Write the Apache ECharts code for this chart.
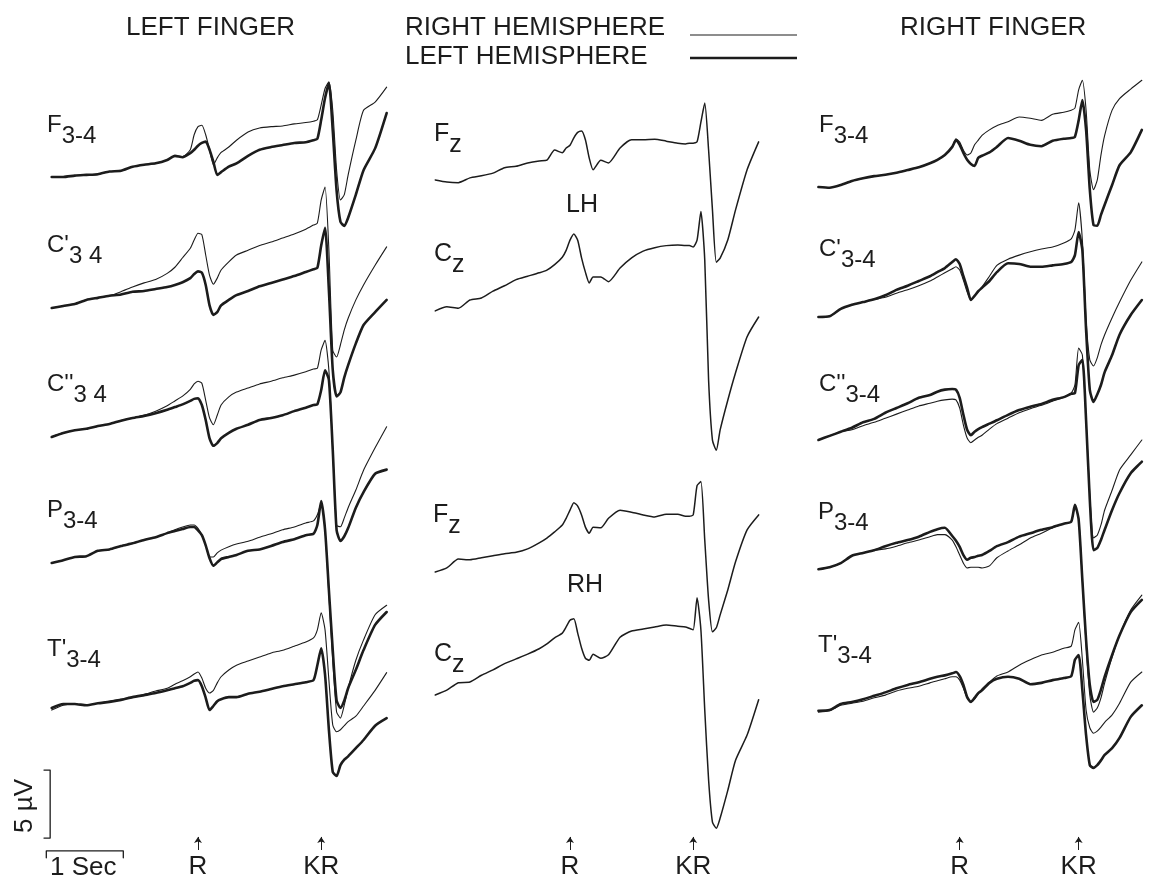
<!DOCTYPE html>
<html>
<head>
<meta charset="utf-8">
<script src="https://cdn.jsdelivr.net/npm/echarts@6/dist/echarts.min.js"></script>
<style>html,body{margin:0;background:#fff}#chart{width:1153px;height:883px}</style>
</head>
<body>
<div id="chart"></div>
<script>
// time of each sample, seconds relative to the response signal R (KR follows at 1.6 s)
const timeSec = [-1.9, -1.75, -1.6, -1.45, -1.3, -1.15, -1.0, -0.85, -0.7, -0.55, -0.4, -0.3, -0.2, -0.1, -0.05, 0, 0.05, 0.1, 0.15, 0.2, 0.25, 0.3, 0.4, 0.5, 0.65, 0.8, 0.95, 1.1, 1.25, 1.4, 1.5, 1.55, 1.6, 1.65, 1.7, 1.75, 1.8, 1.85, 1.9, 1.95, 2.05, 2.15, 2.3, 2.45];
const eventNames = ["R", "KR"];
const eventTimes = [0, 1.6];

// µV relative to the start of each trace; thin = right hemisphere, thick = left hemisphere
const leftF_thin = [0, 0, 0.1, 0.15, 0.2, 0.4, 0.45, 0.75, 0.9, 1.0, 1.25, 1.55, 1.5, 2.0, 3.1, 3.7, 3.8, 3.1, 2.0, 0.9, 1.4, 1.8, 2.2, 2.7, 3.3, 3.6, 3.7, 3.75, 3.9, 4.0, 4.1, 4.2, 5.3, 6.5, 7.0, 4.9, 0.5, -1.7, -1.3, 0.15, 2.7, 4.9, 5.5, 6.6];
const leftF_thick = [0, 0, 0.1, 0.15, 0.2, 0.4, 0.45, 0.75, 0.9, 1.0, 1.25, 1.55, 1.45, 1.75, 2.0, 2.3, 2.5, 2.6, 2.0, 1.1, 0.15, 0.35, 0.75, 1.0, 1.55, 2.0, 2.2, 2.35, 2.5, 2.55, 2.7, 2.8, 4.2, 5.8, 6.9, 3.4, -1.0, -3.3, -3.6, -3.0, -1.3, 0.5, 2.1, 4.7];
const leftC1_thin = [0, 0.15, 0.3, 0.6, 0.75, 0.9, 1.2, 1.55, 1.85, 2.1, 2.55, 3.0, 3.7, 4.4, 5.0, 5.5, 5.4, 3.9, 2.4, 1.75, 2.2, 2.8, 3.4, 3.9, 4.25, 4.6, 4.85, 5.15, 5.45, 5.8, 6.1, 6.25, 7.95, 8.9, 4.25, -3.1, -3.6, -2.7, -1.6, -0.75, 0.6, 1.7, 3.15, 4.5];
const leftC1_thick = [0, 0.15, 0.3, 0.6, 0.75, 0.9, 1.0, 1.2, 1.25, 1.4, 1.55, 1.7, 1.9, 2.2, 2.5, 2.7, 2.6, 1.7, 0.2, -0.5, -0.3, 0.2, 0.6, 0.95, 1.25, 1.6, 1.85, 2.1, 2.35, 2.65, 2.85, 2.95, 4.6, 5.9, 1.3, -4.55, -6.5, -6.2, -5.1, -4.2, -2.6, -1.25, -0.3, 0.6];
const leftC2_thin = [0, 0.3, 0.5, 0.6, 0.8, 0.95, 1.2, 1.4, 1.6, 1.9, 2.3, 2.65, 3.0, 3.5, 3.9, 4.1, 3.95, 2.7, 1.4, 0.9, 1.6, 2.35, 2.95, 3.3, 3.6, 3.9, 4.1, 4.35, 4.55, 4.8, 5.0, 5.05, 6.4, 7.1, 4.9, -0.95, -6.5, -6.6, -5.95, -5.2, -3.9, -2.45, -0.8, 0.75];
const leftC2_thick = [0, 0.3, 0.5, 0.6, 0.8, 0.95, 1.2, 1.4, 1.55, 1.75, 2.0, 2.2, 2.4, 2.65, 2.8, 2.85, 2.35, 1.25, -0.1, -0.65, -0.45, -0.1, 0.3, 0.6, 0.9, 1.25, 1.4, 1.6, 1.9, 2.15, 2.35, 2.4, 3.45, 4.9, 4.2, -0.95, -6.85, -7.65, -7.3, -6.7, -5.2, -4.05, -2.7, -2.4];
const leftP_thin = [0, 0.2, 0.45, 0.5, 0.9, 1.0, 1.25, 1.45, 1.7, 1.9, 2.2, 2.45, 2.65, 2.8, 2.8, 2.55, 2.05, 1.3, 0.45, 0.45, 0.75, 0.95, 1.2, 1.4, 1.6, 1.9, 2.15, 2.45, 2.65, 2.95, 3.1, 3.55, 4.4, 2.45, -2.35, -7.15, -10.95, -11.4, -10.45, -9.2, -7.15, -5.65, -3.8, -3.1];
const leftP_thick = [0, 0.2, 0.45, 0.5, 0.9, 1.0, 1.25, 1.45, 1.7, 1.9, 2.2, 2.35, 2.5, 2.65, 2.65, 2.4, 2.05, 1.3, 0.35, -0.2, 0.05, 0.3, 0.45, 0.6, 0.9, 1.0, 1.25, 1.55, 1.75, 2.05, 2.15, 2.8, 4.55, 2.45, -2.0, -6.4, -10.1, -10.65, -10.1, -9.2, -7.85, -6.4, -4.55, -3.6];
const leftT_thin = [-0.15, 0.2, 0.3, 0.2, 0.35, 0.5, 0.65, 0.8, 1.0, 1.25, 1.45, 1.75, 2.0, 2.3, 2.5, 2.65, 2.2, 1.45, 1.1, 1.3, 1.85, 2.3, 2.8, 3.15, 3.45, 3.75, 4.05, 4.25, 4.55, 4.85, 5.15, 5.75, 7.0, 5.75, 2.05, -1.25, -1.75, -1.6, -1.3, -1.0, -0.6, 0.15, 1.3, 2.6];
const leftT_thick = [0, 0.3, 0.3, 0.2, 0.35, 0.45, 0.6, 0.8, 0.95, 1.1, 1.3, 1.45, 1.6, 1.85, 2.0, 2.05, 1.6, 0.75, -0.15, 0.15, 0.5, 0.65, 0.8, 0.8, 1.05, 1.2, 1.4, 1.6, 1.75, 1.9, 2.05, 3.15, 4.4, 2.45, -1.6, -4.7, -5.0, -4.2, -3.8, -3.55, -2.95, -2.35, -1.3, -0.75];

const midFzLH = [null, 0, -0.15, -0.2, 0.15, 0.3, 0.5, 0.9, 1.0, 1.25, 1.4, 1.45, 2.2, 2.0, 2.35, 2.55, 3.1, 3.5, 3.6, 2.95, 1.6, 0.75, 1.45, 1.25, 2.35, 2.95, 2.95, 3.0, 2.85, 2.7, 2.65, 2.7, 2.7, 2.8, 4.25, 5.65, 2.2, -2.2, -6.05, -5.75, -4.4, -2.2, 0.75, 2.8];
const midCzLH = [null, 0.15, 0.45, 0.35, 0.95, 1.1, 1.6, 2.0, 2.45, 2.7, 2.95, 3.15, 3.55, 4.1, 4.6, 5.35, 5.8, 5.35, 4.05, 3.0, 2.2, 2.65, 2.65, 2.3, 3.3, 4.05, 4.55, 4.8, 4.95, 5.0, 4.95, 4.95, 4.85, 5.35, 7.45, 3.9, -4.95, -9.35, -10.1, -8.6, -6.4, -4.4, -1.75, -0.3];
const midFzRH = [null, -0.15, 0.15, 0.8, 0.75, 0.9, 1.05, 1.2, 1.3, 1.55, 2.0, 2.35, 2.8, 3.3, 3.8, 4.4, 4.95, 4.7, 4.05, 3.15, 2.7, 3.15, 3.1, 3.8, 4.4, 4.25, 4.05, 3.9, 4.1, 4.1, 3.95, 3.95, 4.05, 6.2, 6.5, 2.2, -2.2, -4.55, -4.25, -3.3, -1.45, 0.6, 2.95, 4.05];
const midCzRH = [null, 0, 0.35, 0.9, 0.95, 1.45, 1.85, 2.3, 2.65, 3.0, 3.4, 3.75, 4.2, 4.55, 5.0, 5.5, 5.6, 4.55, 3.45, 2.7, 2.55, 3.0, 2.7, 2.95, 4.25, 4.7, 4.85, 5.0, 5.15, 5.05, 5.0, 4.9, 4.8, 7.15, 4.8, -1.1, -6.25, -9.35, -9.8, -9.05, -7.0, -4.8, -2.95, -0.35];

const rightF_thin = [0, -0.05, 0.15, 0.45, 0.65, 0.8, 0.9, 1.05, 1.25, 1.45, 1.75, 2.0, 2.35, 2.95, 3.55, 3.3, 2.7, 2.35, 2.5, 3.1, 3.45, 3.8, 4.2, 4.5, 4.8, 5.15, 5.05, 4.9, 5.35, 5.5, 5.65, 5.8, 7.15, 7.85, 5.65, 1.25, -0.2, 0.5, 2.35, 3.8, 5.65, 6.5, 7.2, 7.85];
const rightF_thick = [0, -0.05, 0.15, 0.45, 0.65, 0.8, 0.9, 1.05, 1.25, 1.45, 1.75, 2.0, 2.35, 2.95, 3.45, 3.1, 2.5, 2.0, 1.7, 1.55, 2.15, 2.3, 2.55, 2.95, 3.6, 3.4, 3.1, 3.0, 3.4, 3.55, 3.6, 3.7, 4.9, 6.4, 4.2, -0.2, -2.8, -2.85, -2.05, -1.3, 0.15, 1.6, 2.55, 4.2];
const rightC1_thin = [0, 0.05, 0.6, 0.9, 1.1, 1.3, 1.45, 1.75, 2.0, 2.3, 2.65, 2.95, 3.25, 3.55, 3.7, 3.45, 2.7, 1.85, 1.25, 1.55, 1.85, 2.2, 3.0, 3.8, 4.25, 4.55, 4.8, 5.0, 5.15, 5.45, 5.75, 6.4, 8.4, 5.65, -0.2, -3.15, -3.6, -3.0, -2.05, -1.3, -0.05, 1.1, 2.7, 4.05];
const rightC1_thick = [0, 0.05, 0.6, 0.9, 1.1, 1.3, 1.6, 2.0, 2.3, 2.65, 3.0, 3.3, 3.6, 4.05, 4.25, 3.9, 3.0, 2.15, 1.25, 1.55, 1.9, 2.15, 2.65, 3.3, 3.95, 3.9, 3.7, 3.7, 3.8, 3.9, 4.05, 4.55, 6.25, 4.9, -0.95, -5.35, -6.25, -5.7, -5.0, -4.05, -2.8, -1.3, 0.15, 1.25];
const rightC2_thin = [0, 0.3, 0.6, 0.75, 1.05, 1.3, 1.6, 1.9, 2.2, 2.5, 2.7, 2.85, 2.95, 3.0, 2.95, 2.35, 1.1, 0.15, -0.2, 0, 0.2, 0.35, 0.8, 1.2, 1.6, 2.0, 2.3, 2.55, 2.85, 3.15, 3.45, 4.05, 6.75, 6.25, 1.45, -4.05, -7.2, -7.0, -6.25, -5.15, -3.7, -2.2, -1.1, 0];
const rightC2_thick = [0, 0.3, 0.6, 0.9, 1.3, 1.55, 2.0, 2.35, 2.7, 3.1, 3.3, 3.55, 3.7, 3.75, 3.7, 3.1, 1.85, 0.75, 0.35, 0.6, 0.8, 0.95, 1.2, 1.45, 1.85, 2.2, 2.45, 2.65, 2.95, 3.15, 3.4, 3.45, 5.5, 5.9, 1.45, -4.4, -8.1, -7.95, -7.35, -6.6, -5.15, -3.9, -2.45, -1.6];
const rightP_thin = [0.05, 0.2, 0.5, 1.05, 1.25, 1.45, 1.55, 1.75, 2.0, 2.2, 2.45, 2.6, 2.6, 2.2, 1.7, 1.1, 0.5, 0.15, 0.2, 0.2, 0.2, 0.15, 0.3, 0.9, 1.4, 1.85, 2.35, 2.7, 3.1, 3.4, 3.55, 4.7, 3.8, -0.75, -5.5, -9.2, -10.45, -10.15, -9.4, -8.3, -6.4, -4.8, -2.95, -1.85];
const rightP_thick = [0.05, 0.2, 0.5, 1.05, 1.25, 1.45, 1.75, 2.0, 2.2, 2.45, 2.8, 3.0, 3.1, 2.5, 2.15, 1.7, 1.1, 0.75, 0.9, 0.95, 1.05, 1.1, 1.4, 1.75, 2.05, 2.45, 2.7, 2.95, 3.15, 3.4, 3.55, 4.8, 3.7, -0.75, -5.15, -8.45, -9.7, -9.55, -8.8, -7.85, -6.25, -4.8, -3.1, -2.2];
const rightT_thin = [-0.15, -0.05, 0.35, 0.5, 0.65, 0.9, 1.1, 1.4, 1.6, 1.75, 2.0, 2.15, 2.3, 2.45, 2.45, 2.2, 1.6, 0.9, 0.6, 0.8, 1.2, 1.55, 2.05, 2.5, 2.8, 3.3, 3.7, 4.05, 4.25, 4.55, 4.7, 5.9, 6.45, 3.7, 0, -1.3, -1.7, -1.55, -1.25, -0.9, -0.35, 0.5, 2.05, 2.8];
const rightT_thick = [-0.05, 0, 0.45, 0.6, 0.8, 1.05, 1.3, 1.6, 1.85, 2.05, 2.3, 2.45, 2.55, 2.7, 2.8, 2.5, 1.85, 0.95, 0.6, 0.9, 1.25, 1.45, 2.0, 2.3, 2.45, 2.3, 1.9, 2.0, 2.2, 2.35, 2.5, 3.7, 4.05, 1.45, -1.85, -4.05, -4.25, -4.05, -3.7, -3.3, -2.8, -2.05, -0.5, 0.35];

const scaleBarSec = 1;
const scaleBarMicroV = 5;

// layout: one grid per column, traces stacked by a baseline in µV
const INK = "#1c1c1c";
const FONT = "'Liberation Sans', Arial, sans-serif";
const PX_PER_SEC = 77, PX_PER_UV = 13.6, Y_MAX = 62.5;
const columns = [
  { left: 198 - 2 * PX_PER_SEC, rows: [
    { base: 50.96, thin: leftF_thin, thick: leftF_thick },
    { base: 41.32, thin: leftC1_thin, thick: leftC1_thick },
    { base: 31.84, thin: leftC2_thin, thick: leftC2_thick },
    { base: 22.57, thin: leftP_thin, thick: leftP_thick },
    { base: 11.91, thin: leftT_thin, thick: leftT_thick },
  ] },
  { left: 570 - 2 * PX_PER_SEC, rows: [
    { base: 50.74, single: midFzLH },
    { base: 40.96, single: midCzLH },
    { base: 22.06, single: midFzRH },
    { base: 12.87, single: midCzRH },
  ] },
  { left: 965 - 2 * PX_PER_SEC, rows: [
    { base: 50.22, thin: rightF_thin, thick: rightF_thick },
    { base: 40.66, thin: rightC1_thin, thick: rightC1_thick },
    { base: 31.62, thin: rightC2_thin, thick: rightC2_thick },
    { base: 22.06, thin: rightP_thin, thick: rightP_thick },
    { base: 11.76, thin: rightT_thin, thick: rightT_thick },
  ] },
];

const series = [];
const line = (col, data, width, smooth) => series.push({
  type: "line", xAxisIndex: col, yAxisIndex: col, symbol: "none", silent: true, clip: false, animation: false,
  smooth: smooth || false,
  lineStyle: { color: INK, width, cap: "round", join: "round" }, data,
});
const trace = (col, values, base, width) =>
  line(col, timeSec.map((t, i) => [t, values[i]]).filter(p => p[1] != null).map(([t, v]) => [t, v + base]), width, 0.2);

columns.forEach((c, col) => {
  c.rows.forEach(r => {
    if (r.single) trace(col, r.single, r.base, 1.5);
    else { trace(col, r.thin, r.base, 1.1); trace(col, r.thick, r.base, 2.6); }
  });
  series.push({
    type: "line", xAxisIndex: col, yAxisIndex: col, data: [], silent: true, animation: false,
    markLine: {
      silent: true, animation: false, symbol: ["none", "arrow"], symbolSize: 6,
      lineStyle: { color: INK, width: 1, type: "solid" },
      label: { position: "start", distance: 4, formatter: "{b}", fontSize: 26, fontFamily: FONT, color: INK },
      data: eventNames.map((name, i) => [{ name, coord: [eventTimes[i], 1.47] }, { coord: [eventTimes[i], 2.43] }]),
    },
  });
});

// calibration bars in the left column
const barT0 = -1.97, barLevel = 1.4, tick = 0.5;
line(0, [[barT0, barLevel - tick], [barT0, barLevel], [barT0 + scaleBarSec, barLevel], [barT0 + scaleBarSec, barLevel - tick]], 1.3);
const vBarT = -1.92, vBarLow = 2.35;
line(0, [[vBarT - 0.08, vBarLow + scaleBarMicroV], [vBarT, vBarLow + scaleBarMicroV], [vBarT, vBarLow], [vBarT - 0.08, vBarLow]], 1.3);

const txt = (x, y, main, sub, size) => ({
  type: "text", left: x, top: y, silent: true,
  style: {
    text: sub ? `{m|${main}}{s|${sub}}` : `{m|${main}}`,
    rich: {
      m: { fontSize: size, fontFamily: FONT, fill: INK, verticalAlign: "top" },
      s: { fontSize: size, fontFamily: FONT, fill: INK, padding: [Math.round(size * 0.45), 0, 0, 0] },
    },
  },
});
const legendLine = (y, w) => ({ type: "line", silent: true, shape: { x1: 690, y1: y, x2: 797, y2: y }, style: { stroke: INK, lineWidth: w } });

const graphic = [
  txt(126, 15, "LEFT FINGER", null, 26),
  txt(405, 15, "RIGHT HEMISPHERE", null, 26),
  txt(405, 44, "LEFT HEMISPHERE", null, 26),
  txt(900, 15, "RIGHT FINGER", null, 26),
  legendLine(35, 1.1), legendLine(58, 2.6),
  txt(47, 113, "F", "3-4", 24), txt(47, 233, "C'", "3 4", 24), txt(47, 372, "C''", "3 4", 24),
  txt(47, 498, "P", "3-4", 24), txt(47, 637, "T'", "3-4", 24),
  txt(434, 122, "F", "z", 25), txt(566, 193, "LH", null, 25), txt(434, 242, "C", "z", 25),
  txt(433, 503, "F", "z", 25), txt(567, 573, "RH", null, 25), txt(434, 642, "C", "z", 25),
  txt(819, 113, "F", "3-4", 24), txt(819, 237, "C'", "3-4", 24), txt(819, 372, "C''", "3-4", 24),
  txt(818, 500, "P", "3-4", 24), txt(818, 633, "T'", "3-4", 24),
  { type: "text", x: 25, y: 806, rotation: Math.PI / 2, silent: true,
    style: { text: "5 µV", fontSize: 26, fontFamily: FONT, fill: INK, align: "center", verticalAlign: "middle" } },
  txt(50, 855, "1 Sec", null, 26),
];

const chart = echarts.init(document.getElementById("chart"), null, { renderer: "canvas" });
chart.setOption({
  animation: false,
  backgroundColor: "#fff",
  grid: columns.map(c => ({ left: c.left, top: 20, width: 4.6 * PX_PER_SEC, height: Y_MAX * PX_PER_UV })),
  xAxis: columns.map((c, i) => ({ type: "value", gridIndex: i, min: -2.0, max: 2.6, show: false })),
  yAxis: columns.map((c, i) => ({ type: "value", gridIndex: i, min: 0, max: Y_MAX, show: false })),
  series,
  graphic,
});
</script>
</body>
</html>
